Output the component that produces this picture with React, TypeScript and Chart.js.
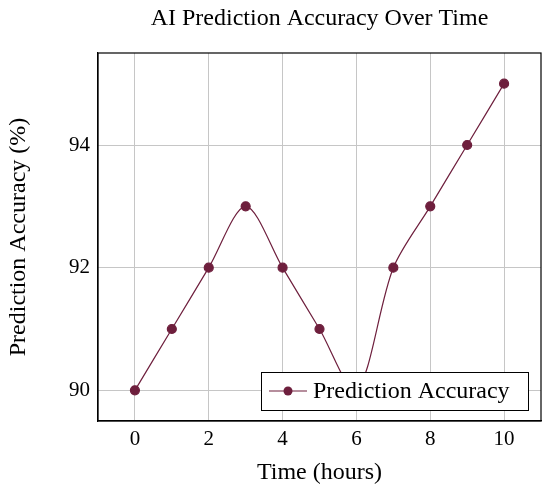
import React, { useEffect, useRef } from "react";
import { Chart, registerables } from "chart.js";

Chart.register(...registerables);

const TITLE = "AI Prediction Accuracy Over Time";
const X_LABEL = "Time (hours)";
const Y_LABEL = "Prediction Accuracy (%)";
const SERIES_NAME = "Prediction Accuracy";
const hours = [0, 1, 2, 3, 4, 5, 6, 7, 8, 9, 10];
const accuracy = [90, 91, 92, 93, 92, 91, 90, 92, 93, 94, 95];
const xTicks = [0, 2, 4, 6, 8, 10];
const yTicks = [90, 92, 94];

const FONT = "'Liberation Serif', 'DejaVu Serif', serif";
const COLOR = "#6e1f3d";
const GRID = "#c6c6c6";

const framePlugin = {
  id: "frameTitleLegend",
  afterDatasetsDraw(chart: any) {
    const { ctx, chartArea } = chart;
    const ds = chart.data.datasets[0];
    ctx.save();
    // full frame
    ctx.strokeStyle = "#000000";
    ctx.lineWidth = 1.2;
    ctx.strokeRect(chartArea.left, chartArea.top, chartArea.right - chartArea.left, chartArea.bottom - chartArea.top);
    // title centred over the plot area
    ctx.fillStyle = "#000000";
    ctx.font = `24px ${FONT}`;
    ctx.textAlign = "center";
    ctx.textBaseline = "alphabetic";
    ctx.fillText(TITLE, (chartArea.left + chartArea.right) / 2, 25);
    // legend box
    const w = 267;
    const h = 38;
    const x = chartArea.right - 13 - w;
    const y = chartArea.bottom - 11 - h;
    ctx.fillStyle = "#ffffff";
    ctx.fillRect(x, y, w, h);
    ctx.strokeStyle = "#000000";
    ctx.lineWidth = 1;
    ctx.strokeRect(x + 0.5, y + 0.5, w, h);
    const cy = y + h / 2;
    ctx.strokeStyle = ds.borderColor;
    ctx.lineWidth = 1.2;
    ctx.beginPath();
    ctx.moveTo(x + 8, cy);
    ctx.lineTo(x + 46, cy);
    ctx.stroke();
    ctx.fillStyle = ds.pointBackgroundColor;
    ctx.beginPath();
    ctx.arc(x + 27, cy, 4.5, 0, Math.PI * 2);
    ctx.fill();
    ctx.fillStyle = "#000000";
    ctx.font = `24px ${FONT}`;
    ctx.textBaseline = "middle";
    ctx.textAlign = "left";
    ctx.fillText(ds.label, x + 52, cy + 1);
    ctx.restore();
  },
};

export default function App() {
  const ref = useRef<HTMLCanvasElement>(null);
  useEffect(() => {
    if (!ref.current) return;
    const chart = new Chart(ref.current, {
      type: "line",
      data: {
        datasets: [
          {
            label: SERIES_NAME,
            data: hours.map((h, i) => ({ x: h, y: accuracy[i] })),
            borderColor: COLOR,
            backgroundColor: COLOR,
            pointBackgroundColor: COLOR,
            pointBorderColor: COLOR,
            pointRadius: 4.5,
            borderWidth: 1.2,
            tension: 0.3,
            fill: false,
          },
        ],
      },
      options: {
        animation: false,
        responsive: false,
        layout: { padding: { left: 0, right: 9, top: 53, bottom: 0 } },
        plugins: {
          legend: { display: false },
          tooltip: { enabled: false },
          title: { display: false },
        },
        scales: {
          x: {
            type: "linear",
            min: -1,
            max: 11,
            afterBuildTicks: (s: any) => {
              s.ticks = xTicks.map((v) => ({ value: v }));
            },
            afterFit: (s: any) => {
              s.height = 72;
            },
            grid: { color: GRID, drawTicks: false, lineWidth: 1 },
            border: { color: "#000", width: 1.2 },
            ticks: {
              color: "#000",
              padding: 6,
              font: { family: FONT, size: 21 },
            },
            title: {
              display: true,
              text: X_LABEL,
              color: "#000",
              font: { family: FONT, size: 24 },
              padding: { top: 0, bottom: 6 },
            },
          },
          y: {
            type: "linear",
            min: 89.5,
            max: 95.5,
            afterBuildTicks: (s: any) => {
              s.ticks = yTicks.map((v) => ({ value: v }));
            },
            afterFit: (s: any) => {
              s.width = 98;
            },
            grid: { color: GRID, drawTicks: false, lineWidth: 1 },
            border: { color: "#000", width: 1.2 },
            ticks: {
              color: "#000",
              padding: 8,
              font: { family: FONT, size: 21 },
            },
            title: {
              display: true,
              text: Y_LABEL,
              color: "#000",
              font: { family: FONT, size: 24 },
              padding: { top: 4, bottom: 0 },
            },
          },
        },
      },
      plugins: [framePlugin],
    });
    return () => chart.destroy();
  }, []);
  return (
    <div style={{ position: "fixed", left: 0, top: 0, width: 550, height: 493, background: "#fff" }}>
      <canvas ref={ref} width={550} height={493} style={{ width: 550, height: 493 }} />
    </div>
  );
}
